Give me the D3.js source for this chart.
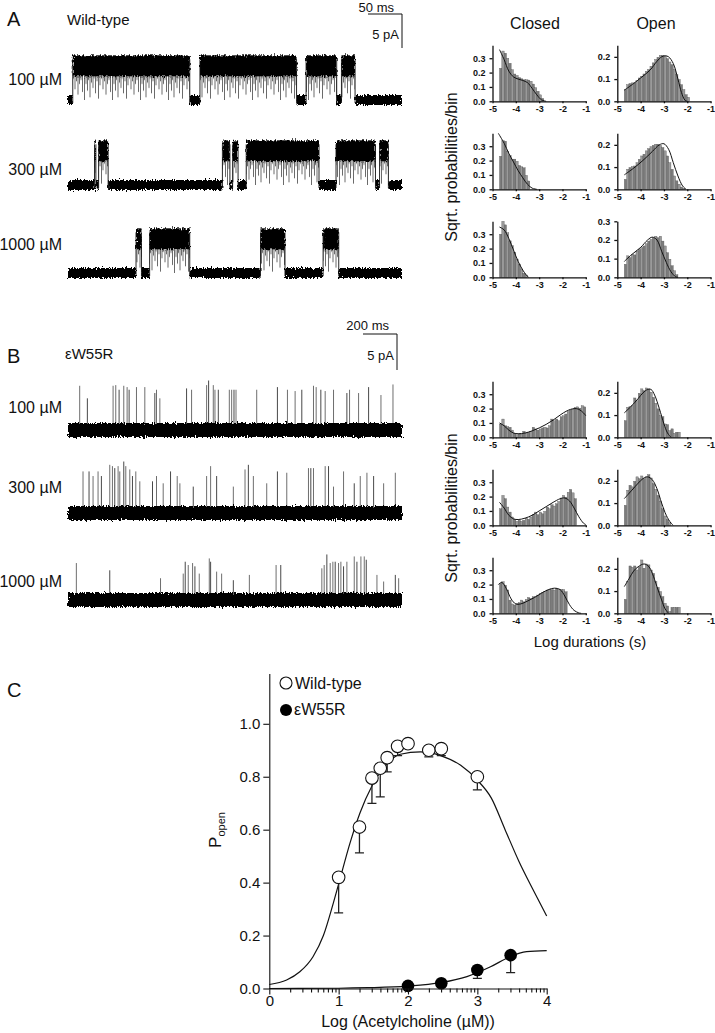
<!DOCTYPE html>
<html>
<head>
<meta charset="utf-8">
<script src="https://cdn.jsdelivr.net/npm/d3@7"></script>
<style>
body { margin: 0; background: #fff; }
svg { display: block; font-family: Arial, "Liberation Sans", sans-serif; }
</style>
</head>
<body>
<svg id="fig" width="715" height="1033"></svg>
<script>
// ---- single-channel records (open intervals in ms / brief openings as [ms, pA]) ----
const wtOpen100 = [[7, 179], [194, 336], [350, 395], [402, 422]];
const wtOpen300 = [[39, 41], [45, 59], [227, 238], [242, 250], [262, 369], [394, 452], [458, 471]];
const wtOpen1000 = [[100, 108], [120, 179], [283, 319], [375, 398]];
const wtDuration = 491;
const wtAmplitude = 5.1;

const mutSpikes100 = [[70, 6.7], [116, 4.8], [270, 6.7], [286, 6.8], [306, 6.1], [334, 6.7], [354, 6.5], [366, 6.1],
  [410, 6.5], [460, 6.5], [520, 5.6], [530, 6.1], [550, 4.8], [710, 6.3], [740, 6.1], [830, 6.8], [842, 7.5],
  [870, 6.8], [880, 6.1], [900, 6.1], [966, 6.1], [980, 6.1], [994, 6.1], [1006, 6.1], [1130, 6.1], [1254, 6.5],
  [1314, 6.1], [1360, 5.9], [1400, 6.1], [1470, 6.7], [1486, 6.5], [1514, 6.1], [1540, 5.9], [1590, 6.1],
  [1670, 5.6], [1686, 6.1], [1740, 5.6], [1800, 6.5], [1874, 5.3], [1946, 6.9]];
const mutSpikes300 = [[90, 6.3], [126, 6.3], [150, 5.6], [180, 6.3], [200, 5.6], [250, 7.3], [266, 7.1], [280, 6.8],
  [300, 7.1], [310, 6.3], [334, 7.8], [346, 7.1], [370, 6.6], [386, 5.6], [406, 6.3], [430, 4.8], [506, 4.8],
  [530, 5.6], [570, 4.5], [614, 6.3], [654, 5.6], [670, 4.5], [750, 4.0], [830, 5.6], [854, 7.1], [890, 5.6],
  [990, 4.0], [1060, 6.6], [1080, 7.3], [1110, 5.6], [1190, 4.5], [1254, 6.3], [1310, 6.1], [1440, 6.8],
  [1454, 6.8], [1470, 6.8], [1540, 7.1], [1560, 7.1], [1590, 4.0], [1650, 6.3], [1714, 4.5], [1750, 5.6],
  [1790, 6.1], [1830, 5.6], [1890, 4.5], [1960, 6.1]];
const mutSpikes1000 = [[50, 5.6], [250, 4.5], [554, 3.3], [690, 4.0], [702, 5.8], [720, 5.3], [746, 5.6], [760, 5.1],
  [786, 4.0], [846, 6.3], [854, 5.8], [890, 4.3], [920, 4.0], [990, 3.0], [1086, 3.8], [1246, 5.3], [1274, 5.3],
  [1520, 4.8], [1534, 5.3], [1550, 6.9], [1570, 5.6], [1586, 5.8], [1600, 5.8], [1620, 5.6], [1634, 5.8],
  [1650, 5.1], [1670, 5.8], [1714, 6.6], [1730, 5.8], [1754, 6.6], [1774, 6.6], [1786, 6.1], [1850, 3.8],
  [1890, 2.8], [1960, 3.8], [1980, 3.3]];
const mutDuration = 2000;

// ---- dwell-time histograms: sqrt(probability) per 0.1 log bin, first bin at -4.7 ----
const BIN_START = -4.7, BIN_W = 0.1;
const wt100Closed = [0.23, 0.35, 0.335, 0.30, 0.265, 0.22, 0.19, 0.18, 0.165, 0.157, 0.15, 0.15, 0.148, 0.14, 0.12, 0.095, 0.07, 0.045, 0.02];
const wt100Open = [0.053, 0.075, 0.08, 0.083, 0.083, 0.093, 0.105, 0.113, 0.123, 0.135, 0.143, 0.158, 0.173, 0.188,
  0.198, 0.207, 0.207, 0.203, 0.192, 0.177, 0.165, 0.143, 0.12, 0.098, 0.075, 0.053, 0.03, 0.018];
const wt300Closed = [0.23, 0.34, 0.335, 0.265, 0.235, 0.21, 0.21, 0.195, 0.166, 0.157, 0.15, 0.097, 0.058];
const wt300Open = [0.045, 0.09, 0.098, 0.102, 0.105, 0.12, 0.135, 0.15, 0.158, 0.173, 0.183, 0.192, 0.198, 0.203,
  0.203, 0.198, 0.188, 0.173, 0.15, 0.12, 0.09, 0.06, 0.038, 0.023, 0.01, 0.005];
const wt1000Closed = [0.30, 0.39, 0.365, 0.31, 0.254, 0.22, 0.173, 0.127, 0.092, 0.058, 0.028, 0.016];
const wt1000Open = [0.07, 0.115, 0.106, 0.123, 0.12, 0.141, 0.15, 0.159, 0.168, 0.18, 0.194, 0.203, 0.212, 0.22,
  0.212, 0.22, 0.194, 0.168, 0.132, 0.097, 0.062, 0.035, 0.014];
const mut100Closed = [0.092, 0.127, 0.08, 0.074, 0.07, 0.05, 0.028, 0.018, 0.023, 0.023, 0.042, 0.028, 0.035, 0.042,
  0.07, 0.058, 0.05, 0.058, 0.065, 0.07, 0.065, 0.08, 0.127, 0.115, 0.127, 0.115, 0.143, 0.15, 0.162, 0.18, 0.19,
  0.196, 0.208, 0.212, 0.203, 0.22, 0.212];
const mut100Open = [0.075, 0.135, 0.138, 0.143, 0.177, 0.165, 0.198, 0.218, 0.21, 0.222, 0.218, 0.203, 0.18, 0.153,
  0.128, 0.098, 0.093, 0.06, 0.057, 0.03, 0.038, 0.018, 0.023, 0.023];
const mut300Closed = [0.115, 0.208, 0.185, 0.127, 0.092, 0.058, 0.042, 0.028, 0.035, 0.028, 0.035, 0.05, 0.042, 0.058,
  0.074, 0.092, 0.074, 0.092, 0.08, 0.097, 0.127, 0.115, 0.143, 0.134, 0.15, 0.166, 0.19, 0.208, 0.196, 0.23, 0.25,
  0.226, 0.185];
const mut300Open = [0.09, 0.158, 0.18, 0.173, 0.198, 0.218, 0.21, 0.222, 0.21, 0.218, 0.228, 0.213, 0.188, 0.162,
  0.135, 0.108, 0.075, 0.042, 0.027, 0.012];
const mut1000Closed = [0.208, 0.22, 0.196, 0.162, 0.092, 0.065, 0.058, 0.07, 0.074, 0.092, 0.08, 0.097, 0.11, 0.104,
  0.115, 0.115, 0.127, 0.138, 0.143, 0.15, 0.162, 0.166, 0.166, 0.162, 0.173, 0.166, 0.166, 0.166, 0.15];
const mut1000Open = [0.063, 0.143, 0.213, 0.207, 0.213, 0.195, 0.21, 0.24, 0.203, 0.222, 0.218, 0.195, 0.18, 0.143,
  0.117, 0.098, 0.075, 0.045, 0.033, 0.008, 0.027, 0.027, 0.027, 0.027];

// fitted densities, [log duration, sqrt prob]
const wt100ClosedFit = [[-4.7, 0.36], [-4.5, 0.29], [-4.3, 0.21], [-4.1, 0.17], [-3.9, 0.155], [-3.7, 0.145], [-3.5, 0.13], [-3.3, 0.09], [-3.1, 0.045], [-2.9, 0.01], [-2.7, 0]];
const wt100OpenFit = [[-4.7, 0.05], [-4.3, 0.08], [-4.0, 0.105], [-3.6, 0.14], [-3.3, 0.18], [-3.1, 0.2], [-2.95, 0.205], [-2.8, 0.2], [-2.6, 0.17], [-2.4, 0.1], [-2.25, 0.04], [-2.1, 0.005], [-2.0, 0]];
const wt300ClosedFit = [[-4.75, 0.39], [-4.5, 0.32], [-4.3, 0.25], [-4.1, 0.19], [-3.9, 0.13], [-3.7, 0.08], [-3.5, 0.035], [-3.3, 0.008], [-3.1, 0]];
const wt300OpenFit = [[-4.7, 0.065], [-4.3, 0.095], [-3.9, 0.13], [-3.5, 0.17], [-3.2, 0.2], [-3.0, 0.205], [-2.8, 0.18], [-2.6, 0.12], [-2.4, 0.06], [-2.2, 0.015], [-2.05, 0]];
const wt1000ClosedFit = [[-4.7, 0.35], [-4.5, 0.33], [-4.3, 0.27], [-4.1, 0.19], [-3.9, 0.11], [-3.7, 0.05], [-3.55, 0.015], [-3.45, 0]];
const wt1000OpenFit = [[-4.7, 0.085], [-4.4, 0.12], [-4.0, 0.16], [-3.7, 0.2], [-3.5, 0.215], [-3.3, 0.2], [-3.1, 0.14], [-2.9, 0.08], [-2.7, 0.03], [-2.5, 0.003], [-2.4, 0]];
const mut100ClosedFit = [[-4.7, 0.1], [-4.5, 0.08], [-4.3, 0.05], [-4.1, 0.03], [-3.9, 0.025], [-3.6, 0.03], [-3.3, 0.045], [-3.0, 0.065], [-2.7, 0.09], [-2.4, 0.12], [-2.1, 0.155], [-1.8, 0.185], [-1.5, 0.2], [-1.3, 0.195], [-1.1, 0.17], [-1.0, 0.15]];
const mut100OpenFit = [[-4.7, 0.11], [-4.4, 0.14], [-4.1, 0.175], [-3.9, 0.2], [-3.7, 0.215], [-3.55, 0.215], [-3.4, 0.19], [-3.2, 0.13], [-3.0, 0.06], [-2.85, 0.02], [-2.7, 0]];
const mut300ClosedFit = [[-4.7, 0.16], [-4.5, 0.12], [-4.3, 0.07], [-4.1, 0.045], [-3.9, 0.04], [-3.6, 0.05], [-3.3, 0.07], [-3.0, 0.1], [-2.7, 0.13], [-2.4, 0.16], [-2.1, 0.185], [-1.9, 0.19], [-1.7, 0.17], [-1.5, 0.12], [-1.3, 0.06], [-1.1, 0.015], [-1.0, 0.005]];
const mut300OpenFit = [[-4.7, 0.12], [-4.4, 0.155], [-4.1, 0.19], [-3.9, 0.21], [-3.7, 0.218], [-3.5, 0.205], [-3.3, 0.165], [-3.1, 0.1], [-2.9, 0.045], [-2.7, 0.01], [-2.6, 0]];
const mut1000ClosedFit = [[-4.75, 0.2], [-4.6, 0.215], [-4.4, 0.17], [-4.2, 0.1], [-4.0, 0.065], [-3.8, 0.065], [-3.5, 0.085], [-3.2, 0.11], [-2.9, 0.14], [-2.6, 0.165], [-2.35, 0.175], [-2.1, 0.165], [-1.9, 0.12], [-1.7, 0.06], [-1.5, 0.02], [-1.3, 0.003], [-1.2, 0]];
const mut1000OpenFit = [[-4.7, 0.12], [-4.5, 0.155], [-4.3, 0.19], [-4.1, 0.21], [-3.85, 0.222], [-3.65, 0.21], [-3.5, 0.18], [-3.3, 0.12], [-3.1, 0.06], [-2.95, 0.02], [-2.8, 0]];

// ---- dose-response (log µM, Popen, lower error) ----
const wtLogConc = [1.0, 1.3, 1.48, 1.6, 1.7, 1.85, 2.0, 2.3, 2.48, 3.0];
const wtPopen = [0.42, 0.61, 0.795, 0.832, 0.872, 0.915, 0.925, 0.90, 0.906, 0.80];
const wtPopenLow = [0.286, 0.512, 0.699, 0.724, 0.818, 0.88, 0.91, 0.875, 0.88, 0.75];
const mutLogConc = [2.0, 2.48, 3.0, 3.48];
const mutPopen = [0.01, 0.02, 0.07, 0.126];
const mutPopenLow = [0.01, 0.02, 0.038, 0.06];
const wtCurve = [[0, 0.015], [0.25, 0.032], [0.44, 0.063], [0.63, 0.12], [0.78, 0.2], [0.92, 0.32], [1.0, 0.395],
  [1.17, 0.555], [1.31, 0.665], [1.48, 0.765], [1.7, 0.85], [1.89, 0.885], [2.18, 0.894], [2.47, 0.88], [2.76, 0.843],
  [3.0, 0.787], [3.2, 0.72], [3.4, 0.60], [3.6, 0.48], [3.8, 0.375], [4.0, 0.274]];
const mutCurve = [[0, 0], [1.0, 0.001], [1.42, 0.003], [2.0, 0.009], [2.47, 0.022], [2.85, 0.045], [3.19, 0.082],
  [3.47, 0.12], [3.71, 0.139], [4.0, 0.143]];

const concLabels = ["100 \u00b5M", "300 \u00b5M", "1000 \u00b5M"];

// ====================================================================
const svg = d3.select("#fig");
const defs = svg.append("defs");

const noisy = defs.append("filter").attr("id", "noisy")
  .attr("x", "-1%").attr("y", "-80%").attr("width", "102%").attr("height", "260%");
noisy.append("feTurbulence").attr("type", "fractalNoise").attr("baseFrequency", "0.9 0.35")
  .attr("numOctaves", 2).attr("seed", 7).attr("result", "n");
noisy.append("feDisplacementMap").attr("in", "SourceGraphic").attr("in2", "n").attr("scale", 6)
  .attr("xChannelSelector", "R").attr("yChannelSelector", "G");

function text(x, y, str, size, opts = {}) {
  return svg.append("text").attr("x", x).attr("y", y).attr("font-size", size)
    .attr("text-anchor", opts.anchor || "start").attr("font-weight", opts.weight || "normal")
    .attr("fill", "#111").text(str);
}

function scaleBar(x1, y1, len, h, tLabel, aLabel, tY, aY) {
  svg.append("path").attr("d", `M${x1 - len},${y1}H${x1}V${y1 + h}`)
    .attr("fill", "none").attr("stroke", "#111").attr("stroke-width", 1);
  text(x1 - 8, tY, tLabel, 13, { anchor: "end" });
  text(x1 - 3, aY, aLabel, 13, { anchor: "end" });
}

// ---- panel A traces ----
const PX_PER_PA = 34 / 5;
const xA = d3.scaleLinear().domain([0, wtDuration]).range([68, 402]);
const wtRecords = [wtOpen100, wtOpen300, wtOpen1000];
const wtBase = [100, 185, 273];
// flicker texture: [x offset in tile, fraction of the gap reached]
const flickerTile = [[0.5, 1.0], [2, 0.4], [3.5, 0.65], [4.5, 0.25], [6, 0.9], [7.5, 0.35], [9, 0.55], [10, 0.2],
  [11.5, 0.75], [13, 0.3], [14.5, 0.95], [16, 0.45], [17.5, 0.2], [19, 0.6], [20.5, 0.3], [22, 0.8], [23.5, 0.4],
  [25, 0.25], [26.5, 0.7]];

wtRecords.forEach((opens, k) => {
  const yb = wtBase[k];
  const yo = yb - wtAmplitude * PX_PER_PA;
  const g = svg.append("g");
  const H = yb - (yo + 8);
  const pat = defs.append("pattern").attr("id", "flick" + k).attr("patternUnits", "userSpaceOnUse")
    .attr("x", 3 * k).attr("y", yo + 8).attr("width", 28).attr("height", H);
  flickerTile.forEach(([px, f]) => pat.append("line").attr("x1", px).attr("x2", px).attr("y1", 0).attr("y2", H * f)
    .attr("stroke", "#3a3a3a").attr("stroke-width", 0.75));

  const closed = [];
  let t = 0;
  opens.forEach(([a, b]) => { if (a > t) closed.push([t, a]); t = b; });
  if (t < wtDuration) closed.push([t, wtDuration]);

  g.selectAll(".cl").data(closed).join("rect")
    .attr("x", d => xA(d[0])).attr("width", d => xA(d[1]) - xA(d[0]))
    .attr("y", yb - 5).attr("height", 10).attr("fill", "#000").attr("filter", "url(#noisy)");
  g.selectAll(".fl").data(opens).join("rect")
    .attr("x", d => xA(d[0])).attr("width", d => xA(d[1]) - xA(d[0]))
    .attr("y", yo + 8).attr("height", H).attr("fill", `url(#flick${k})`);
  g.selectAll(".op").data(opens).join("rect")
    .attr("x", d => xA(d[0])).attr("width", d => Math.max(0.8, xA(d[1]) - xA(d[0])))
    .attr("y", yo - 10).attr("height", 21).attr("fill", "#000").attr("filter", "url(#noisy)");
  g.selectAll(".ed").data(opens.flatMap(d => d)).join("line")
    .attr("x1", d => xA(d)).attr("x2", d => xA(d)).attr("y1", yo - 6).attr("y2", yb + 3)
    .attr("stroke", "#111").attr("stroke-width", 0.9);
});

text(7, 26, "A", 20);
text(67, 25, "Wild-type", 15);
scaleBar(402, 14, 34, 34, "50 ms", "5 pA", 11.5, 39);
[85, 175, 250].forEach((y, i) => text(62, y, concLabels[i], 16, { anchor: "end" }));

// ---- panel B traces ----
const PX_PER_PA_B = 33 / 5;
const xB = d3.scaleLinear().domain([0, mutDuration]).range([68, 402]);
const mutRecords = [mutSpikes100, mutSpikes300, mutSpikes1000];
const mutBase = [430, 513, 600];
mutRecords.forEach((spikes, k) => {
  const yb = mutBase[k];
  const g = svg.append("g");
  g.selectAll("line").data(spikes).join("line")
    .attr("x1", d => xB(d[0])).attr("x2", d => xB(d[0]))
    .attr("y1", yb).attr("y2", d => yb - d[1] * PX_PER_PA_B)
    .attr("stroke", (d, i) => i % 3 === 1 ? "#333" : "#5e5e5e").attr("stroke-width", 0.9);
  g.append("rect").attr("x", xB(0)).attr("width", xB(mutDuration) - xB(0))
    .attr("y", yb - 7).attr("height", 14).attr("fill", "#000").attr("filter", "url(#noisy)");
});

text(7, 363, "B", 20);
text(65, 359, "\u03b5W55R", 15);
scaleBar(397, 334, 34, 36, "200 ms", "5 pA", 330, 360);
[413, 493, 587].forEach((y, i) => text(62, y, concLabels[i], 16, { anchor: "end" }));

// ---- dwell-time histograms ----
const HIST_W = 93.3, HIST_H = 56;
function histogram(x0, y0, yMax, yTicks, values, fit) {
  const x = d3.scaleLinear().domain([-5, -1]).range([x0, x0 + HIST_W]);
  const y = d3.scaleLinear().domain([0, yMax]).range([y0, y0 - HIST_H]);
  const g = svg.append("g");
  g.selectAll("rect").data(values).join("rect")
    .attr("x", (d, i) => x(BIN_START + i * BIN_W))
    .attr("width", x(BIN_W) - x(0))
    .attr("y", d => y(d)).attr("height", d => y0 - y(d))
    .attr("fill", (d, i) => i % 2 ? "#9a9a9a" : "#7c7c7c")
    .attr("stroke", "#555").attr("stroke-width", 0.35);
  g.append("path").datum(fit)
    .attr("d", d3.line().x(d => x(d[0])).y(d => y(d[1])).curve(d3.curveCatmullRom))
    .attr("fill", "none").attr("stroke", "#111").attr("stroke-width", 1);

  const ax = g.append("g").attr("transform", `translate(0,${y0})`)
    .call(d3.axisBottom(x).tickValues([-5, -4, -3, -2, -1]).tickFormat(d => String(d)).tickSize(2).tickSizeOuter(0));
  const ay = g.append("g").attr("transform", `translate(${x0},0)`)
    .call(d3.axisLeft(y).tickValues(yTicks).tickFormat(d3.format(".1f")).tickSize(3).tickSizeOuter(0));
  [ax, ay].forEach(a => {
    a.selectAll("path, line").attr("stroke", "#111").attr("stroke-width", 1.3);
    a.selectAll("text").attr("font-size", 9).attr("font-weight", "bold").attr("fill", "#111")
      .attr("font-family", "Arial, 'Liberation Sans', sans-serif");
  });
  ax.selectAll("text").attr("dy", "0.6em");
  ay.selectAll("text").attr("dx", "-1px");
}

const CLOSED_X = 492.5, OPEN_X = 617.3;
const closedTicks = [0, 0.1, 0.2, 0.3], openTicks = [0, 0.1, 0.2];
const histRows = [
  [101.3, wt100Closed, wt100ClosedFit, wt100Open, wt100OpenFit, 0.252, openTicks],
  [189.3, wt300Closed, wt300ClosedFit, wt300Open, wt300OpenFit, 0.252, openTicks],
  [277.3, wt1000Closed, wt1000ClosedFit, wt1000Open, wt1000OpenFit, 0.3, closedTicks],
  [437.3, mut100Closed, mut100ClosedFit, mut100Open, mut100OpenFit, 0.252, openTicks],
  [525.3, mut300Closed, mut300ClosedFit, mut300Open, mut300OpenFit, 0.252, openTicks],
  [613.3, mut1000Closed, mut1000ClosedFit, mut1000Open, mut1000OpenFit, 0.252, openTicks]
];
histRows.forEach(([y0, cv, cf, ov, of, oMax, oTicks]) => {
  histogram(CLOSED_X, y0, 0.39, closedTicks, cv, cf);
  histogram(OPEN_X, y0, oMax, oTicks, ov, of);
});

text(535, 29, "Closed", 16, { anchor: "middle" });
text(656, 29, "Open", 16, { anchor: "middle" });
[167, 508].forEach(cy => {
  svg.append("text").attr("transform", `translate(457,${cy}) rotate(-90)`)
    .attr("text-anchor", "middle").attr("font-size", 16).attr("fill", "#111").text("Sqrt. probabilities/bin");
});
text(590, 647, "Log durations (s)", 15, { anchor: "middle" });

// ---- panel C: dose-response ----
const xC = d3.scaleLinear().domain([0, 4]).range([269.3, 546.7]);
const yC = d3.scaleLinear().domain([0, 1.19]).range([988.5, 673.5]);
const gC = svg.append("g");

const curveLine = d3.line().x(d => xC(d[0])).y(d => yC(d[1])).curve(d3.curveMonotoneX);
[wtCurve, mutCurve].forEach(c => gC.append("path").datum(c).attr("d", curveLine)
  .attr("fill", "none").attr("stroke", "#111").attr("stroke-width", 1.2));

function errorBars(lx, py, low) {
  lx.forEach((lv, i) => {
    if (py[i] - low[i] < 0.012) return;
    const cx = xC(lv);
    gC.append("path").attr("d", `M${cx},${yC(py[i])}V${yC(low[i])}M${cx - 4.5},${yC(low[i])}H${cx + 4.5}`)
      .attr("stroke", "#222").attr("stroke-width", 1.3).attr("fill", "none");
  });
}
errorBars(wtLogConc, wtPopen, wtPopenLow);
errorBars(mutLogConc, mutPopen, mutPopenLow);

gC.selectAll(".wt").data(wtLogConc).join("circle")
  .attr("cx", d => xC(d)).attr("cy", (d, i) => yC(wtPopen[i])).attr("r", 6.3)
  .attr("fill", "#fff").attr("stroke", "#111").attr("stroke-width", 1.1);
gC.selectAll(".mut").data(mutLogConc).join("circle")
  .attr("cx", d => xC(d)).attr("cy", (d, i) => yC(mutPopen[i])).attr("r", 6.3)
  .attr("fill", "#000");

const axC = gC.append("g").attr("transform", "translate(0,988.5)")
  .call(d3.axisBottom(xC).tickValues([0, 1, 2, 3, 4]).tickFormat(d3.format("d")).tickSize(6).tickSizeOuter(0));
const minorTicks = d3.range(0, 4).flatMap(n => d3.range(2, 10).map(k => n + Math.log10(k)));
const axCm = gC.append("g").attr("transform", "translate(0,988.5)")
  .call(d3.axisBottom(xC).tickValues(minorTicks).tickFormat("").tickSize(4).tickSizeOuter(0));
const ayC = gC.append("g").attr("transform", "translate(269.3,0)")
  .call(d3.axisLeft(yC).tickValues([0, 0.2, 0.4, 0.6, 0.8, 1.0]).tickFormat(d3.format(".1f")).tickSize(6).tickSizeOuter(0));
[axC, axCm, ayC].forEach(a => {
  a.selectAll("path, line").attr("stroke", "#111").attr("stroke-width", 1.1);
  a.selectAll("text").attr("font-size", 15).attr("fill", "#111")
    .attr("font-family", "Arial, 'Liberation Sans', sans-serif");
});
axCm.select("path").remove();
axC.selectAll("text").attr("dy", "0.55em");

text(408, 1027, "Log (Acetylcholine (\u00b5M))", 16, { anchor: "middle" });
const pLab = svg.append("text").attr("transform", "translate(221,830) rotate(-90)")
  .attr("text-anchor", "middle").attr("font-size", 17).attr("fill", "#111");
pLab.append("tspan").text("P");
pLab.append("tspan").attr("font-size", 11).attr("dy", 4).text("open");

text(7, 697, "C", 20);
svg.append("circle").attr("cx", 286).attr("cy", 683).attr("r", 6).attr("fill", "#fff").attr("stroke", "#111").attr("stroke-width", 1.1);
text(295, 689, "Wild-type", 16);
svg.append("circle").attr("cx", 286).attr("cy", 710).attr("r", 6).attr("fill", "#000");
text(294, 715, "\u03b5W55R", 16);
</script>
</body>
</html>
